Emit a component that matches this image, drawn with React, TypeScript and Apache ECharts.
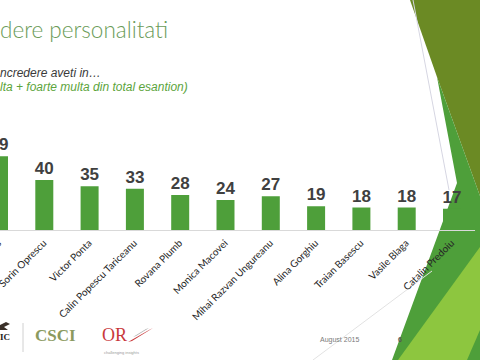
import React, { useEffect, useRef } from "react";
import * as echarts from "echarts";

const categories = [
  "Klaus Iohannis",
  "Sorin Oprescu",
  "Victor Ponta",
  "Calin Popescu Tariceanu",
  "Rovana Plumb",
  "Monica Macovei",
  "Mihai Razvan Ungureanu",
  "Alina Gorghiu",
  "Traian Basescu",
  "Vasile Blaga",
  "Catalin Predoiu",
];
const values = [59, 40, 35, 33, 28, 24, 27, 19, 18, 18, 17];

const titleText = "dere personalitati";
const subtitle1 = "ncredere aveti in…";
const subtitle2 = "lta + foarte multa din total esantion)";
const footerDate = "August 2015";
const pageNumber = "6";

const OX = 40; // chart canvas is shifted left by OX px

const pt = (x: number, y: number) => [x + OX, y];

export default function App() {
  const ref = useRef<HTMLDivElement>(null);
  useEffect(() => {
    if (!ref.current) return;
    const chart = echarts.init(ref.current, undefined, { renderer: "svg" });
    const option: any = {
      animation: false,
      backgroundColor: "#ffffff",
      grid: {
        left: 16.35,
        right: 45.35,
        top: 155,
        bottom: 130,
        containLabel: false,
        outerBoundsMode: "none",
      },
      xAxis: {
        type: "category",
        data: categories,
        axisLine: { show: true, lineStyle: { color: "#d9d9d9", width: 1 } },
        axisTick: { show: false },
        axisLabel: {
          interval: 0,
          rotate: 45,
          margin: 11,
          fontSize: 10,
          color: "#262626",
          fontFamily: "Lato",
        },
      },
      yAxis: {
        type: "value",
        min: 0,
        max: 60,
        show: false,
        splitLine: { show: false },
      },
      series: [
        {
          type: "bar",
          data: values,
          barWidth: 18,
          itemStyle: { color: "#4e9f3a" },
          z: 5,
          label: {
            show: true,
            position: "top",
            distance: 3,
            fontSize: 17,
            fontWeight: "bold",
            color: "#404040",
            fontFamily: "Liberation Sans",
          },
        },
      ],
      graphic: {
        elements: [
          {
            type: "polygon",
            z: -10,
            shape: { points: [pt(410, 0), pt(480, 0), pt(480, 196), pt(437, 77)] },
            style: { fill: "#6b8a24" },
          },
          {
            type: "polygon",
            z: -10,
            shape: {
              points: [pt(437, 77), pt(480, 196), pt(480, 360), pt(392, 360), pt(457, 183)],
            },
            style: { fill: "#4e9f3a" },
          },
          {
            type: "polygon",
            z: -10,
            shape: { points: [pt(480, 247), pt(480, 330), pt(467, 360), pt(398, 360)] },
            style: { fill: "#8dc63f" },
          },
          {
            type: "line",
            z: -10,
            shape: { x1: 413 + OX, y1: 0, x2: 449 + OX, y2: 190 },
            style: { stroke: "#d6d6e2", lineWidth: 1 },
          },
          {
            type: "line",
            z: -10,
            shape: { x1: 313 + OX, y1: 360, x2: 432 + OX, y2: 271 },
            style: { stroke: "#e2e2e2", lineWidth: 1 },
          },
          {
            type: "text",
            x: 0 + OX,
            y: 29,
            style: {
              text: titleText,
              fontSize: 22.5,
              fontFamily: "Lato",
              fontWeight: 300,
              fill: "#6a9b58",
              verticalAlign: "middle",
            },
          },
          {
            type: "text",
            x: 0 + OX,
            y: 73,
            style: {
              text: subtitle1,
              fontSize: 12,
              fontStyle: "italic",
              fontFamily: "Liberation Sans",
              fill: "#3a3a3a",
              verticalAlign: "middle",
            },
          },
          {
            type: "text",
            x: 0 + OX,
            y: 87,
            style: {
              text: subtitle2,
              fontSize: 12,
              fontStyle: "italic",
              fontFamily: "Liberation Sans",
              fill: "#5ca43c",
              verticalAlign: "middle",
            },
          },
          // logos
          {
            type: "polygon",
            shape: { points: [pt(-2, 326), pt(6, 322), pt(10, 324), pt(4, 327), pt(8, 330), pt(-2, 330)] },
            style: { fill: "#3a3028" },
          },
          {
            type: "text",
            x: -6 + OX,
            y: 337,
            style: {
              text: "TIC",
              fontSize: 9,
              fontWeight: "bold",
              fontFamily: "Liberation Sans Narrow",
              fill: "#222222",
              verticalAlign: "middle",
            },
          },
          {
            type: "line",
            shape: { x1: 23 + OX, y1: 323, x2: 23 + OX, y2: 352 },
            style: { stroke: "#d0d0d0", lineWidth: 1 },
          },
          {
            type: "text",
            x: 35 + OX,
            y: 335,
            style: {
              text: "CSCI",
              fontSize: 17,
              fontWeight: "bold",
              fontFamily: "Liberation Serif",
              fill: "#8b9a5e",
              verticalAlign: "middle",
            },
          },
          {
            type: "text",
            x: 102 + OX,
            y: 335,
            style: {
              text: "OR",
              fontSize: 18,
              fontFamily: "Liberation Serif",
              fill: "#c9393b",
              verticalAlign: "middle",
            },
          },
          {
            type: "polygon",
            shape: { points: [pt(128, 342), pt(149, 330), pt(153, 328), pt(132, 341)] },
            style: { fill: "#c9393b" },
          },
          {
            type: "polygon",
            shape: { points: [pt(133, 337), pt(146, 329), pt(149, 328), pt(136, 336)] },
            style: { fill: "#b0b0b0" },
          },
          {
            type: "text",
            x: 104 + OX,
            y: 352,
            style: {
              text: "challenging insights",
              fontSize: 4,
              fontFamily: "Liberation Sans",
              fill: "#999999",
              verticalAlign: "middle",
            },
          },
          {
            type: "text",
            x: 320 + OX,
            y: 339,
            style: {
              text: footerDate,
              fontSize: 7,
              fontFamily: "Liberation Sans",
              fill: "#7a7a7a",
              verticalAlign: "middle",
            },
          },
          {
            type: "text",
            x: 398 + OX,
            y: 339,
            style: {
              text: pageNumber,
              fontSize: 7,
              fontWeight: "bold",
              fontFamily: "Liberation Sans",
              fill: "#555555",
              verticalAlign: "middle",
            },
          },
        ],
      },
    };
    chart.setOption(option);
    return () => chart.dispose();
  }, []);
  return (
    <div
      style={{
        position: "fixed",
        left: 0,
        top: 0,
        width: 480,
        height: 360,
        overflow: "hidden",
        background: "#fff",
      }}
    >
      <div
        ref={ref}
        style={{ position: "absolute", left: -OX, top: 0, width: 480 + OX + 40, height: 360 }}
      />
    </div>
  );
}
